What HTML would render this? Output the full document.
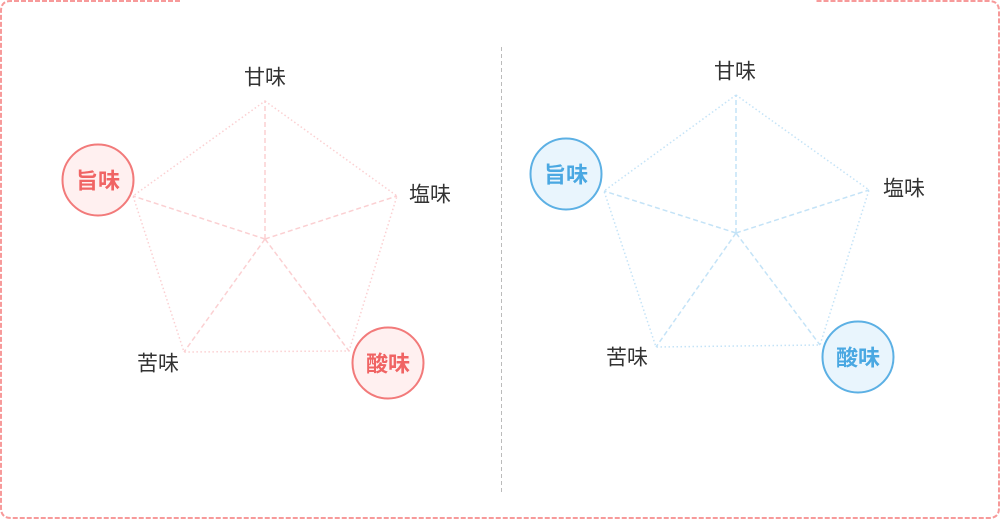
<!DOCTYPE html>
<html><head><meta charset="utf-8"><style>
body{margin:0;width:1000px;height:519px;background:#fff;overflow:hidden}
svg{display:block}
text{font-family:"Liberation Sans","Noto Sans CJK JP",sans-serif;font-size:21px;text-anchor:middle;dominant-baseline:central}
</style></head><body>
<svg width="1000" height="519" viewBox="0 0 1000 519">
<path d="M180 1 H11 Q1 1 1 11 V508 Q1 518 11 518 H989 Q999 518 999 508 V11 Q999 1 989 1 H815" fill="none" stroke="#f79a9a" stroke-width="2" stroke-dasharray="5 2"/>
<line x1="501.5" y1="47" x2="501.5" y2="494" stroke="#bbb" stroke-width="1" stroke-dasharray="4 3"/>
<g stroke="#fbd0d2" stroke-width="1.5" fill="none">
<polygon points="265,101 397,196 349,351 184,352 133,196" stroke-dasharray="1.5 2.5"/>
<g stroke-dasharray="5 3"><line x1="265" y1="239" x2="265" y2="101"/><line x1="265" y1="239" x2="397" y2="196"/><line x1="265" y1="239" x2="349" y2="351"/><line x1="265" y1="239" x2="184" y2="352"/><line x1="265" y1="239" x2="133" y2="196"/></g>
</g>
<g stroke="#c4e3f7" stroke-width="1.5" fill="none">
<polygon points="736,95 869,190 820,345 656,347 604,191" stroke-dasharray="1.5 2.5"/>
<g stroke-dasharray="5 3"><line x1="736" y1="233" x2="736" y2="95"/><line x1="736" y1="233" x2="869" y2="190"/><line x1="736" y1="233" x2="820" y2="345"/><line x1="736" y1="233" x2="656" y2="347"/><line x1="736" y1="233" x2="604" y2="191"/></g>
</g>
<g fill="#333">
<text x="265" y="78">甘味</text><text x="430" y="195">塩味</text><text x="158" y="364">苦味</text>
<text x="735" y="72">甘味</text><text x="904" y="189">塩味</text><text x="627" y="358">苦味</text>
</g>
<g fill="#fff0f0" stroke="#f27a7a" stroke-width="2">
<circle cx="98" cy="180" r="35.5"/><circle cx="388" cy="363" r="35.5"/>
</g>
<g fill="#e9f5fd" stroke="#5cb0e4" stroke-width="2">
<circle cx="566" cy="174" r="35.5"/><circle cx="858" cy="357" r="35.5"/>
</g>
<g fill="#f06464"><text x="98" y="181" style="font-weight:bold;font-size:22px">旨味</text><text x="388" y="364" style="font-weight:bold;font-size:22px">酸味</text></g>
<g fill="#4aa8e2"><text x="566" y="175" style="font-weight:bold;font-size:22px">旨味</text><text x="858" y="358" style="font-weight:bold;font-size:22px">酸味</text></g>
</svg>
</body></html>
